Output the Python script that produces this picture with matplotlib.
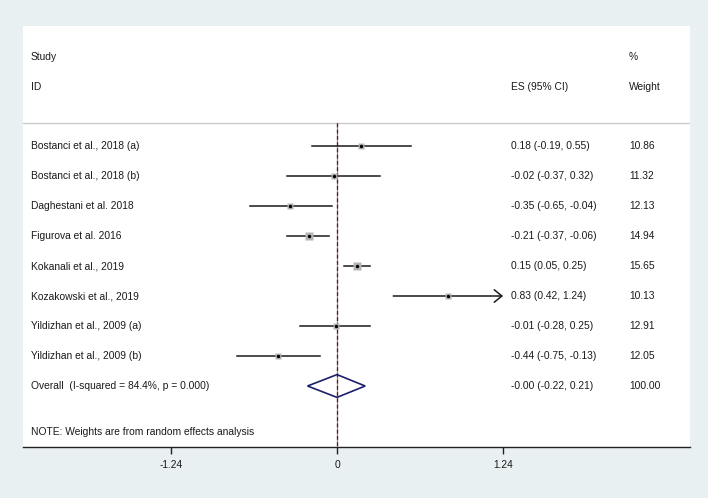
import numpy as np
import matplotlib
matplotlib.use("Agg")
from matplotlib import pyplot as plt

studies = [
    "Bostanci et al., 2018 (a)",
    "Bostanci et al., 2018 (b)",
    "Daghestani et al. 2018",
    "Figurova et al. 2016",
    "Kokanali et al., 2019",
    "Kozakowski et al., 2019",
    "Yildizhan et al., 2009 (a)",
    "Yildizhan et al., 2009 (b)",
]
es = [0.18, -0.02, -0.35, -0.21, 0.15, 0.83, -0.01, -0.44]
ci_lo = [-0.19, -0.37, -0.65, -0.37, 0.05, 0.42, -0.28, -0.75]
ci_hi = [0.55, 0.32, -0.04, -0.06, 0.25, 1.24, 0.25, -0.13]
weights = [10.86, 11.32, 12.13, 14.94, 15.65, 10.13, 12.91, 12.05]

overall_label = "Overall  (I-squared = 84.4%, p = 0.000)"
overall_es = -0.00
overall_lo = -0.22
overall_hi = 0.21
overall_weight = 100.00
overall_text = "-0.00 (-0.22, 0.21)"

xticks = [-1.24, 0, 1.24]
note = "NOTE: Weights are from random effects analysis"

BG = "#e8f0f2"
FONT = "Liberation Sans"
FS = 7.4
TXT = "#1a1a1a"

fig = plt.figure(figsize=(7.08, 4.98), dpi=100)
fig.set_facecolor(BG)
# white plot region: x 23..690 px, y 26..447 px
ax = fig.add_axes([23 / 708, 1 - 447 / 498, 667 / 708, 421 / 498])
ax.set_facecolor("white")

# rows are 30 px apart, first study row at y=146 px
px = lambda y: (y - 146) / 30
ax.set_xlim(-2.345, 2.636)
ax.set_ylim(px(447), px(26))

x_label = -2.285
x_es = 1.30
x_w = 2.18
clip = xticks[-1]


def put(x, y, s):
    ax.text(x, y, s, va="center", fontsize=FS, family=FONT, color=TXT)


# headers
put(x_label, px(57), "Study")
put(x_label, px(87), "ID")
put(x_es, px(87), "ES (95% CI)")
put(x_w, px(57), "%")
put(x_w, px(87), "Weight")
ax.axhline(px(123), color="#c8c8c8", lw=0.9, zorder=1)

# reference line at 0 / overall effect
n = len(studies)
ax.plot([0, 0], [px(123), px(447)], color="#a08888", lw=0.9, zorder=1)
ax.plot([overall_es, overall_es], [px(123), px(447)], color="#5c1a1a", lw=0.9,
        ls=(0, (3, 2)), zorder=2)

for i, name in enumerate(studies):
    put(x_label, i, name)
    put(x_es, i, f"{es[i]:.2f} ({ci_lo[i]:.2f}, {ci_hi[i]:.2f})")
    put(x_w, i, f"{weights[i]:.2f}")

    hi = min(ci_hi[i], clip)
    if ci_hi[i] >= clip:
        ax.annotate("", xy=(hi, i), xytext=(ci_lo[i], i),
                    arrowprops=dict(arrowstyle="->,head_length=0.55,head_width=0.45",
                                    color="#1a1a1a", lw=1.1, shrinkA=0, shrinkB=0),
                    zorder=3)
    else:
        ax.plot([ci_lo[i], hi], [i, i], color="#1a1a1a", lw=1.1, zorder=3)
    ax.plot(es[i], i, marker="s", ms=5.4 * np.sqrt(weights[i] / max(weights)),
            color="#b4b4b4", mec="none", zorder=4)
    ax.plot(es[i], i, marker="o", ms=2.5, color="black", mec="none", zorder=5)

# overall diamond
yo = n
h = 0.38
ax.fill([overall_lo, overall_es, overall_hi, overall_es, overall_lo],
        [yo, yo - h, yo, yo + h, yo], facecolor="none", edgecolor="#1c1f6b",
        lw=1.2, zorder=4)
put(x_label, yo, overall_label)
put(x_es, yo, overall_text)
put(x_w, yo, f"{overall_weight:.2f}")

put(x_label, px(432), note)

for side in ["top", "left", "right"]:
    ax.spines[side].set_visible(False)
ax.spines["bottom"].set_color("#222222")
ax.spines["bottom"].set_linewidth(1.0)
ax.set_yticks([])
ax.set_xticks(xticks)
ax.set_xticklabels(["-1.24", "0", "1.24"], fontsize=FS, family=FONT, color=TXT)
ax.tick_params(axis="x", length=5, width=1, color="#222222", pad=4)

fig.savefig("out.png", dpi=100, facecolor=BG)
